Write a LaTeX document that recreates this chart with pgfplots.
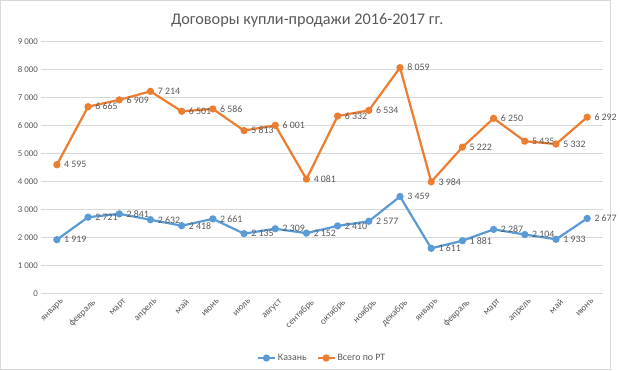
\documentclass[border=0pt]{standalone}
\usepackage{fontspec}
\setmainfont{Carlito}
\usepackage{pgfplots}
\pgfplotsset{compat=1.18}
\definecolor{cblue}{HTML}{5B9BD5}
\definecolor{corange}{HTML}{ED7D31}
\definecolor{tgray}{HTML}{595959}
\definecolor{ggray}{HTML}{D9D9D9}
\begin{document}
\begin{tikzpicture}[x=1pt,y=1pt]
\draw[ggray, line width=0.8pt, fill=white] (0.5,0.5) rectangle (619.5,375.5);
\node[text=tgray, font=\fontsize{16.5}{18}\selectfont] at (312,355) {Договоры купли-продажи 2016-2017 гг.};
\begin{axis}[
  at={(42pt,78pt)}, anchor=south west,
  scale only axis, width=570pt, height=256pt,
  xmin=-0.5, xmax=17.5, ymin=0, ymax=9000,
  ytick={0,1000,...,9000},
  xtick={0,...,17},
  xticklabels={январь,февраль,март,апрель,май,июнь,июль,август,сентябрь,октябрь,ноябрь,декабрь,январь,февраль,март,апрель,май,июнь},
  x tick label style={rotate=45, anchor=north east, font=\fontsize{9.5}{10}\selectfont, text=tgray, inner sep=1pt, yshift=-5pt},
  y tick label style={font=\fontsize{9}{10}\selectfont, text=tgray},
  /pgf/number format/.cd, 1000 sep={\ }, assume math mode=true, /pgfplots/.cd,
  ymajorgrids, grid style={ggray, line width=0.8pt},
  axis line style={draw=none}, major tick length=0pt,
  axis x line*=bottom,
  x axis line style={draw=ggray, line width=0.8pt},
  every node near coord/.append style={font=\fontsize{10}{11}\selectfont, text=tgray, anchor=west, xshift=3pt, /pgf/number format/1000 sep={\ }, /pgf/number format/assume math mode=true},
  nodes near coords,
  legend style={at={(0.5,-0.256)}, anchor=center, draw=none, legend columns=2, font=\fontsize{10}{11}\selectfont, text=tgray, /tikz/every even column/.append style={column sep=8pt}},
  legend image post style={line width=2.25pt},
  clip=false,
]
\addplot[cblue, line width=2.25pt, mark=*, mark size=2.5pt] coordinates {
(0,1919)(1,2721)(2,2841)(3,2632)(4,2418)(5,2661)(6,2135)(7,2309)(8,2152)(9,2410)(10,2577)(11,3459)(12,1611)(13,1881)(14,2287)(15,2104)(16,1933)(17,2677)};
\addlegendentry{Казань}
\addplot[corange, line width=2.25pt, mark=*, mark size=2.5pt] coordinates {
(0,4595)(1,6665)(2,6909)(3,7214)(4,6501)(5,6586)(6,5813)(7,6001)(8,4081)(9,6332)(10,6534)(11,8059)(12,3984)(13,5222)(14,6250)(15,5435)(16,5332)(17,6292)};
\addlegendentry{Всего по РТ}
\end{axis}
\end{tikzpicture}
\end{document}
